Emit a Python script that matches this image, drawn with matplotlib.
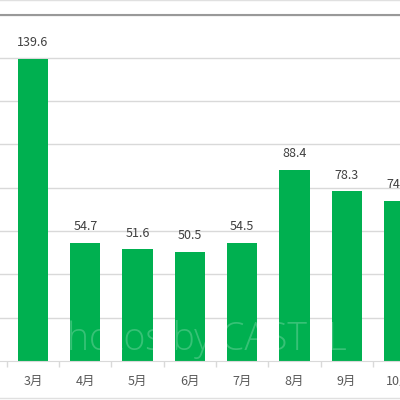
import matplotlib
matplotlib.use('Agg')
import matplotlib.pyplot as plt
from matplotlib.lines import Line2D
import numpy as np

plt.rcParams['font.family'] = ['Noto Sans CJK JP', 'DejaVu Sans']

# monthly values (last one is cut off in the reference)
months = ['3月', '4月', '5月', '6月', '7月', '8月', '9月', '10月']
values = [139.6, 54.7, 51.6, 50.5, 54.5, 88.4, 78.3, 74.1]
value_labels = ['139.6', '54.7', '51.6', '50.5', '54.5', '88.4', '78.3', '74.1']
yticks = [0, 20, 40, 60, 80, 100, 120, 140, 160]

green = '#00B050'
grid_c = '#D9D9D9'

fig = plt.figure(figsize=(4, 4), dpi=100)
ax = fig.add_axes([0, 0.0975, 1, 0.866])

x = np.arange(len(months))
ax.set_axisbelow(True)
for t in yticks[1:]:
    ax.axhline(t, color=grid_c, lw=1, zorder=0)

ax.bar(x, values, width=0.58, color=green, zorder=2)

for xi, v, s in zip(x, values, value_labels):
    ax.annotate(s, (xi, v), xytext=(0, 7), textcoords='offset points',
                ha='center', va='bottom', fontsize=9, color='#404040',
                annotation_clip=False)

ax.set_xticks(x)
ax.set_xticklabels(months, fontsize=9, color='#595959')
ax.tick_params(axis='x', which='major', length=0, pad=10)
ax.set_xticks(np.arange(-0.5, 7, 1), minor=True)
ax.tick_params(axis='x', which='minor', length=4, color=grid_c, width=1)
ax.set_xlim(-0.631, 7.02)
ax.set_ylim(0, 160)
ax.set_yticks([])

for side in ['left', 'right']:
    ax.spines[side].set_visible(False)
ax.spines['bottom'].set_color(grid_c)
ax.spines['top'].set_color('#999999')
ax.spines['top'].set_linewidth(1.5)

# watermark over the bars
ax.text(0.49, 0.005, 'Photos by CASTEL', transform=ax.transAxes,
        ha='center', va='bottom', fontsize=27,
        color='white', alpha=0.22, family='Open Sans', fontweight='light', zorder=3)

# outer frame lines of the cropped chart
fig.add_artist(Line2D([0, 1], [0.999, 0.999], color='#E0E0E0', lw=1))
fig.add_artist(Line2D([0, 1], [0.005, 0.005], color='#E0E0E0', lw=1))

plt.savefig('out.png', dpi=100)
